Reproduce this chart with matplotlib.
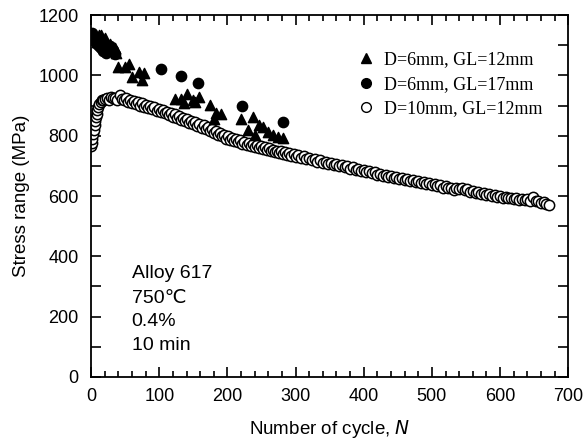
import matplotlib
matplotlib.use("Agg")
import matplotlib.pyplot as plt
from matplotlib.lines import Line2D
from matplotlib.ticker import MultipleLocator

# ---- data ----
n_tri = [3, 8, 12, 15, 18, 21, 25, 27, 31, 35, 37, 39, 49, 55, 60, 70, 77, 75,
         123, 132, 136, 141, 149, 152, 159, 175, 183, 180, 190,
         220, 237, 230, 247, 252, 240, 259, 267, 274, 281]
s_tri = [1120, 1110, 1133, 1134, 1117, 1123, 1100, 1104, 1084, 1090, 1075, 1028, 1028, 1039, 995, 1012, 1008, 984,
         923, 923, 907, 937, 918, 912, 929, 902, 874, 857, 871,
         857, 863, 819, 835, 830, 802, 813, 802, 797, 791]

n_dot = [1, 3, 6, 9, 12, 15, 18, 22, 25, 28, 32, 35,
         102, 132, 157, 222, 281]
s_dot = [1140, 1126, 1113, 1103, 1098, 1092, 1080, 1075, 1088, 1097, 1085, 1070,
         1021, 998, 975, 898, 846]

n_open = [0, 1, 2, 3, 4, 5, 6, 7, 8, 9, 10, 12, 14, 16, 18, 20, 23, 26, 29, 32, 35, 38, 42, 45,
          48, 51, 54, 57, 60, 63, 66, 69, 72, 75, 78, 81, 84, 87, 90, 93, 96, 99, 102, 105, 108,
          111, 114, 117, 120, 123, 126, 129, 132, 135, 138, 141, 144, 147, 150, 153, 156, 159,
          162, 165, 168, 171, 174, 177, 180, 183, 186, 189, 192, 195, 198, 201, 204, 207, 210,
          213, 216, 219, 222, 225, 228, 231, 234, 237, 240, 243, 246, 249, 252, 255, 258, 261,
          264, 267, 270, 273, 276, 279, 282, 285, 288, 291, 294, 297, 300,
          304, 308, 312, 316, 320, 324, 328, 332, 336, 340, 344, 348, 352, 356, 360, 364, 368,
          372, 376, 380, 384, 388, 392, 396, 400, 404, 408, 412, 416, 420, 424, 428, 432, 436,
          440, 444, 448, 452, 456, 460, 464, 468, 472, 476, 480, 484, 488, 492, 496, 500, 504,
          508, 512, 516, 520, 524, 528, 532, 536, 540, 544, 548, 552, 556, 560, 564, 568, 572,
          576, 580, 584, 588, 592, 596, 600, 604, 608, 612, 616, 620, 624, 628, 632, 636, 640,
          644, 648, 652, 656, 660, 664, 668, 672]
s_open = [765, 775, 790, 805, 820, 835, 850, 862, 873, 885, 895, 905, 912, 918, 920, 922, 925, 920, 928, 924, 926, 920, 935, 922,
          918, 925, 912, 920, 910, 915, 905, 912, 900, 908, 896, 903, 893, 898, 888, 895, 882, 890, 878, 886, 875,
          880, 868, 876, 862, 872, 858, 866, 852, 860, 848, 855, 843, 850, 838, 845, 832, 840,
          826, 834, 822, 828, 815, 822, 810, 816, 804, 810, 798, 804, 790, 798, 786, 792, 782,
          788, 778, 785, 772, 780, 770, 776, 765, 772, 762, 768, 758, 765, 755, 762, 752, 758,
          748, 754, 745, 750, 742, 748, 738, 745, 736, 742, 733, 740, 730,
          736, 727, 732, 722, 727, 718, 722, 714, 719, 710, 714, 706, 710, 702, 706, 699, 703,
          695, 699, 691, 695, 687, 690, 683, 687, 679, 682, 675, 679, 671, 674, 667, 671, 664,
          667, 661, 664, 658, 661, 654, 657, 650, 653, 646, 649, 642, 646, 639, 642, 636, 639,
          632, 635, 628, 632, 625, 628, 621, 628, 622, 625, 619, 622, 615, 618, 611, 614, 607,
          610, 604, 607, 601, 604, 598, 601, 595, 598, 592, 595, 590, 593, 588, 591, 586, 589,
          584, 598, 583, 585, 578, 580, 572, 570]

legend_labels = ["D=6mm, GL=12mm", "D=6mm, GL=17mm", "D=10mm, GL=12mm"]
note_lines = ["Alloy 617", "750\u2103", "0.4%", "10 min"]

sans = ["Liberation Sans", "DejaVu Sans"]
serif = ["Liberation Serif", "DejaVu Serif"]

fig = plt.figure(figsize=(5.84, 4.45), dpi=100)
ax = fig.add_axes([0.156, 0.153, 0.817, 0.813])

ax.scatter(n_open, s_open, s=55, facecolors="white", edgecolors="black", linewidths=1.1, zorder=2)
ax.scatter(n_dot, s_dot, s=55, marker="o", color="black", zorder=3)
ax.scatter(n_tri, s_tri, s=55, marker="^", color="black", zorder=3)

ax.set_xlim(0, 700)
ax.set_ylim(0, 1200)
ax.xaxis.set_major_locator(MultipleLocator(100))
ax.xaxis.set_minor_locator(MultipleLocator(20))
ax.yaxis.set_major_locator(MultipleLocator(200))
ax.yaxis.set_minor_locator(MultipleLocator(100))
ax.tick_params(which="both", direction="in", top=True, right=True, width=1.2)
ax.tick_params(which="major", length=7, labelsize=13)
ax.tick_params(axis="y", which="major", pad=9)
ax.tick_params(axis="x", which="major", pad=8)
ax.tick_params(axis="x", which="minor", length=4)
ax.tick_params(axis="y", which="minor", length=7)
for lab in ax.get_xticklabels() + ax.get_yticklabels():
    lab.set_family(sans)
for sp in ax.spines.values():
    sp.set_linewidth(1.3)

ax.set_xlabel("Number of cycle, $\\mathit{N}$", family=sans, fontsize=13.5, labelpad=9)
ax.set_ylabel("Stress range (MPa)", family=sans, fontsize=13.5, labelpad=6)

handles = [Line2D([], [], marker="^", color="black", linestyle="none", markersize=7),
           Line2D([], [], marker="o", color="black", linestyle="none", markersize=7),
           Line2D([], [], marker="o", markerfacecolor="white", markeredgecolor="black",
                  linestyle="none", markersize=7)]
ax.legend(handles, legend_labels, loc="upper left", bbox_to_anchor=(0.553, 0.90), frameon=False,
          borderpad=0, borderaxespad=0,
          prop={"family": serif, "size": 13}, handletextpad=0.4, labelspacing=0.42, handlelength=1.2)

note_y = [0.2845, 0.218, 0.152, 0.088]
for t, yy in zip(note_lines, note_y):
    ax.text(0.085, yy, t, transform=ax.transAxes, family=sans, fontsize=14, va="center")

fig.savefig("out.png", dpi=100)
